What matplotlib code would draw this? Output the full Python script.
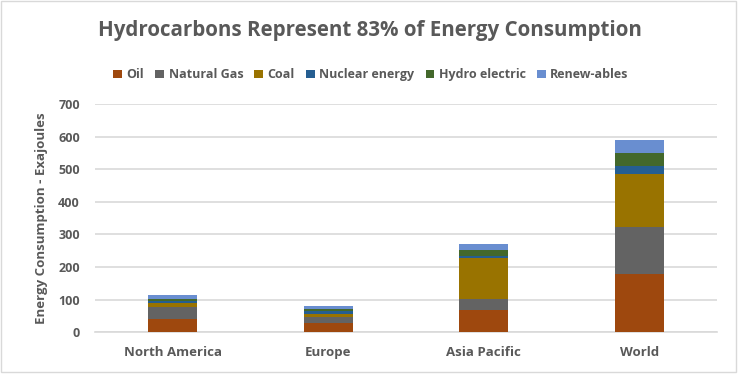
import matplotlib
matplotlib.use("Agg")
import matplotlib.pyplot as plt
from matplotlib.patches import Rectangle

# data (exajoules)
regions = ["North America", "Europe", "Asia Pacific", "World"]
sources = ["Oil", "Natural Gas", "Coal", "Nuclear energy", "Hydro electric", "Renew-ables"]
oil = [41, 27, 68, 180]
natural_gas = [36, 21, 34, 144]
coal = [12, 8, 127, 160]
nuclear = [7, 8, 6, 27]
hydro = [7, 6, 17, 40]
renewables = [10, 12, 18, 40]
yticks = [0, 100, 200, 300, 400, 500, 600, 700]

series = [oil, natural_gas, coal, nuclear, hydro, renewables]
colors = ["#9E480E", "#636363", "#997300", "#255E91", "#43682B", "#698ED0"]
txt = "#595959"

plt.rcParams["font.family"] = ["Open Sans", "DejaVu Sans"]

fig = plt.figure(figsize=(7.39, 3.74), dpi=100)
ax = fig.add_axes([0.1286, 0.1115, 0.8416, 0.6105])

x = range(len(regions))
bottom = [0] * len(regions)
for name, vals, c in zip(sources, series, colors):
    ax.bar(x, vals, 0.315, bottom=bottom, color=c, label=name, zorder=3)
    bottom = [b + v for b, v in zip(bottom, vals)]

ax.set_xlim(-0.5, len(regions) - 0.5)
ax.set_ylim(0, 700)
ax.set_yticks(yticks)
ax.set_xticks(list(x))
ax.set_xticklabels(regions, fontsize=9.5, fontweight="bold", color=txt)
ax.tick_params(axis="y", labelsize=9, labelcolor=txt, length=0, pad=11)
ax.tick_params(axis="x", length=0, pad=10)
for lbl in ax.get_yticklabels():
    lbl.set_fontweight("bold")
ax.grid(axis="y", color="#D9D9D9", linewidth=1.2, zorder=0)
for s in ["top", "right", "left"]:
    ax.spines[s].set_visible(False)
ax.spines["bottom"].set_color("#D9D9D9")
ax.spines["bottom"].set_linewidth(1.2)

ax.set_ylabel("Energy Consumption - Exajoules", fontsize=9.5, fontweight="bold",
              color=txt, labelpad=7)

fig.text(0.5, 0.918, "Hydrocarbons Represent 83% of Energy Consumption",
         ha="center", va="center", fontsize=14.8, fontweight="bold", color=txt)

leg = fig.legend(loc="center", bbox_to_anchor=(0.502, 0.80), ncol=6, frameon=False,
                 fontsize=9, handlelength=0.7, handleheight=0.7, handletextpad=0.35,
                 columnspacing=0.9)
for t in leg.get_texts():
    t.set_color(txt)
    t.set_fontweight("bold")

fig.patches.append(Rectangle((0.002, 0.006), 0.994, 0.99, transform=fig.transFigure,
                             fill=False, edgecolor="#D9D9D9", linewidth=1))

fig.savefig("out.png", dpi=100)
